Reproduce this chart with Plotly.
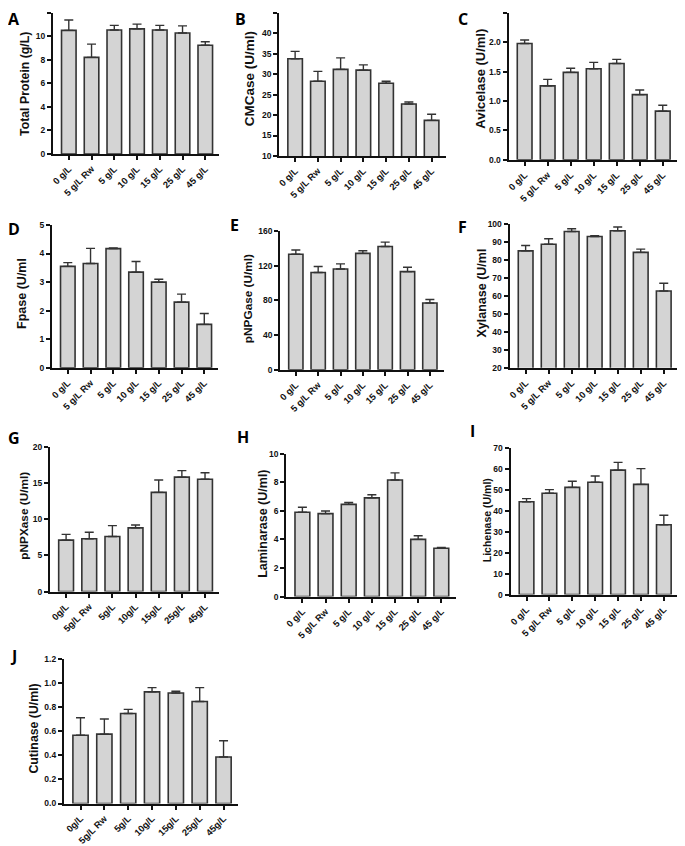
import plotly.graph_objects as go

# Reference canvas size, and the page's default body margin (8px) that offsets the plot
W, H = 685, 846
OFF = 8
FW, FH = W - OFF, H - OFF

cats_sp = ["0 g/L", "5 g/L Rw", "5 g/L", "10 g/L", "15 g/L", "25 g/L", "45 g/L"]
cats_ns = ["0g/L", "5g/L Rw", "5g/L", "10g/L", "15g/L", "25g/L", "45g/L"]

total_protein = [10.52, 8.22, 10.55, 10.65, 10.55, 10.30, 9.25]
total_protein_top = [11.40, 9.35, 10.95, 11.05, 10.95, 10.90, 9.55]

cmcase = [33.8, 28.3, 31.2, 31.0, 27.8, 22.7, 18.7]
cmcase_top = [35.6, 30.7, 34.0, 32.3, 28.3, 23.2, 20.2]

avicelase = [1.98, 1.26, 1.49, 1.55, 1.64, 1.11, 0.83]
avicelase_top = [2.04, 1.37, 1.56, 1.66, 1.71, 1.19, 0.93]

fpase = [3.55, 3.65, 4.17, 3.35, 3.00, 2.30, 1.52]
fpase_top = [3.68, 4.18, 4.19, 3.72, 3.10, 2.58, 1.90]

pnpgase = [133, 112, 116, 134, 142, 113, 77]
pnpgase_top = [138, 119, 122, 137, 147, 118, 81]

xylanase = [85.0, 88.7, 95.8, 93.0, 96.2, 84.2, 62.7]
xylanase_top = [88.0, 91.8, 97.3, 93.5, 98.3, 86.0, 67.0]

pnpxase = [7.1, 7.3, 7.6, 8.8, 13.7, 15.8, 15.5]
pnpxase_top = [7.9, 8.2, 9.1, 9.2, 15.4, 16.7, 16.4]

laminarase = [5.90, 5.80, 6.45, 6.90, 8.15, 4.00, 3.38]
laminarase_top = [6.25, 5.98, 6.58, 7.12, 8.65, 4.25, 3.43]

lichenase = [44.2, 48.3, 51.1, 53.5, 59.3, 52.5, 33.3]
lichenase_top = [45.7, 50.0, 54.0, 56.5, 63.0, 60.0, 37.8]

cutinase = [0.565, 0.575, 0.745, 0.925, 0.915, 0.845, 0.385]
cutinase_top = [0.71, 0.70, 0.78, 0.96, 0.93, 0.96, 0.52]

# letter, title, cats, values, tops, yrange, dtick, fmt,
# plot box in page px (x0, x1, ytop, ybottom), title x, title y, title size, letter pos
panels = [
    ("A", "Total Protein (g/L)", cats_sp, total_protein, total_protein_top, [0, 12], 2, None,
     (51, 218, 8, 151), 23, 80, 12.3, (12, 14)),
    ("B", "CMCase (U/ml)", cats_sp, cmcase, cmcase_top, [10, 45], 5, None,
     (278, 445, 8, 153), 248, 75, 13.5, (239, 14)),
    ("C", "Avicelase (U/ml)", cats_sp, avicelase, avicelase_top, [0, 2.5], 0.5, ".1f",
     (508, 677, 8, 157), 479, 75, 13, (462, 14)),
    ("D", "Fpase (U/ml", cats_sp, fpase, fpase_top, [0, 5], 1, None,
     (50, 217, 223, 368), 20, 292, 12.5, (12, 227)),
    ("E", "pNPGase (U/ml)", cats_sp, pnpgase, pnpgase_top, [0, 160], 40, None,
     (279, 443, 229, 370), 247, 298, 11.8, (233, 223)),
    ("F", "Xylanase (U/ml", cats_sp, xylanase, xylanase_top, [20, 100], 10, None,
     (509, 678, 222, 368), 481, 292, 12.5, (462, 225)),
    ("G", "pNPXase (U/ml)", cats_ns, pnpxase, pnpxase_top, [0, 20], 5, None,
     (48, 218, 448, 595), 22, 518, 11.8, (12, 439)),
    ("H", "Laminarase (U/ml)", cats_sp, laminarase, laminarase_top, [0, 10], 2, None,
     (285, 455, 455, 600), 261, 526, 12.5, (242, 438)),
    ("I", "Lichenase (U/ml)", cats_sp, lichenase, lichenase_top, [0, 70], 10, None,
     (510, 678, 449, 598), 486, 523, 10.5, (472, 432)),
    ("J", "Cutinase (U/ml)", cats_ns, cutinase, cutinase_top, [0, 1.2], 0.2, ".1f",
     (62, 237, 663, 810), 32, 734, 12.3, (12, 660)),
]


def clamp(v):
    return max(0.0, min(1.0, v))


def px_x(px):
    return clamp((px - OFF) / FW)


def px_y(py):
    return clamp(1 - (py - OFF) / FH)


FONT = "Liberation Sans, Arial, sans-serif"
fig = go.Figure()
annotations = []
layout_axes = {}

for i, (letter, title, cats, vals, tops, yr, dt, fmt, box, tx, ty, tsize, lpos) in enumerate(panels):
    n = i + 1
    xa = "x" if n == 1 else f"x{n}"
    ya = "y" if n == 1 else f"y{n}"
    errs = [t - v for t, v in zip(tops, vals)]
    fig.add_trace(go.Bar(
        x=list(range(len(cats))), y=vals, xaxis=xa, yaxis=ya,
        marker=dict(color="#d4d4d4", line=dict(color="#333333", width=1.6)),
        width=0.64,
        error_y=dict(type="data", array=errs, arrayminus=[0] * len(vals),
                     symmetric=False, color="#333333", thickness=1.4, width=4.5),
        showlegend=False, hoverinfo="skip",
    ))
    x0, x1, yt, yb = box
    xkey = "xaxis" if n == 1 else f"xaxis{n}"
    ykey = "yaxis" if n == 1 else f"yaxis{n}"
    layout_axes[xkey] = dict(
        domain=[px_x(x0), px_x(x1)], anchor=ya, range=[-0.7, 6.62],
        tickmode="array", tickvals=list(range(len(cats))), ticktext=cats,
        tickangle=-45, ticks="outside", ticklen=4, tickwidth=1.5, tickcolor="#111",
        showline=True, linewidth=2, linecolor="#111", showgrid=False, zeroline=False,
        tickfont=dict(family=FONT, size=9.3, color="#111", weight="bold"),
        fixedrange=True,
    )
    layout_axes[ykey] = dict(
        domain=[px_y(yb), px_y(yt)], anchor=xa, range=yr, dtick=dt, tick0=yr[0],
        tickformat=fmt if fmt else "",
        ticks="outside", ticklen=4, tickwidth=1.5, tickcolor="#111",
        showline=True, linewidth=2, linecolor="#111", showgrid=False, zeroline=False,
        tickfont=dict(family=FONT, size=8.5, color="#111", weight="bold"),
        fixedrange=True,
    )
    annotations.append(dict(
        text=title, x=px_x(tx), y=px_y(ty), xref="paper", yref="paper",
        xanchor="center", yanchor="middle", textangle=-90, showarrow=False,
        font=dict(family=FONT, size=tsize, color="#111", weight="bold"),
    ))
    annotations.append(dict(
        text=letter, x=px_x(lpos[0]), y=px_y(lpos[1]), xref="paper", yref="paper",
        xanchor="center", yanchor="middle", showarrow=False,
        font=dict(family="Open Sans, Liberation Sans, sans-serif", size=16, color="#000", weight="bold"),
    ))

fig.update_layout(
    width=FW, height=FH, margin=dict(l=0, r=0, t=0, b=0),
    paper_bgcolor="white", plot_bgcolor="white",
    bargap=0.36, annotations=annotations, **layout_axes,
)

fig.write_html("out.html", config={"displayModeBar": False})
